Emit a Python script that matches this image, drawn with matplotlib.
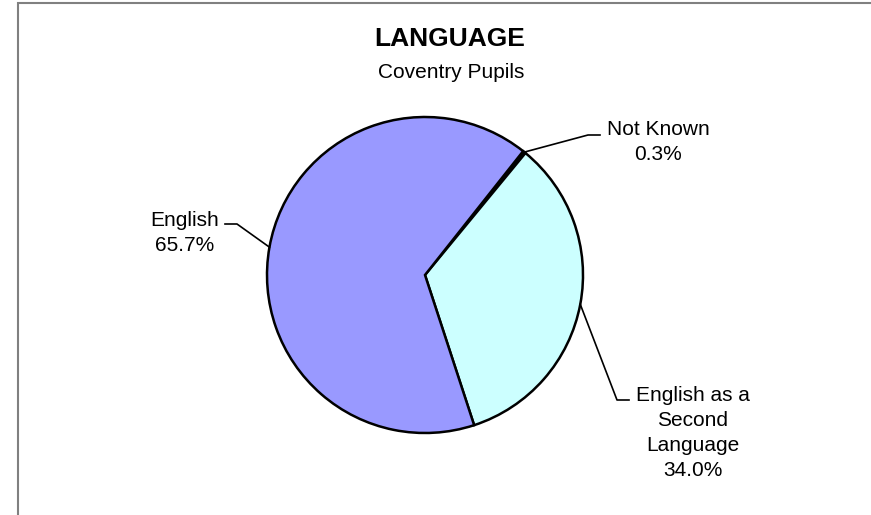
import numpy as np
import matplotlib.pyplot as plt
from matplotlib.patches import Rectangle

plt.rcParams['font.family'] = ['Liberation Sans', 'DejaVu Sans']

# Dữ liệu
labels = ['Not Known', 'English as a\nSecond\nLanguage', 'English']
values = [0.3, 34.0, 65.7]
colors = ['#000000', '#CCFFFF', '#9999FF']

W, H = 871, 515
fig = plt.figure(figsize=(W / 100, H / 100), dpi=100)

# khung xám
fig.patches.append(Rectangle((18 / W, -0.1), 1.2, 1.1 - 3 / H, transform=fig.transFigure,
                             fill=False, edgecolor='#808080', linewidth=1.5))

# trục cho hình tròn: tâm (425, 275), bán kính 158 px
cx, cy, r = 425, 275, 158
ax = fig.add_axes([0, 0, 1, 1])

wedges, _ = ax.pie(values, colors=colors, startangle=51.6, counterclock=False,
                   wedgeprops=dict(edgecolor='black', linewidth=1.8))

# pie() tự đặt giới hạn trục, nên đặt lại sau đó
ax.set_xlim(-cx / r, (W - cx) / r)
ax.set_ylim(-(H - cy) / r, cy / r)
ax.set_aspect('equal')
ax.axis('off')

def px(x, y):
    return (x - cx) / r, (cy - y) / r

# vị trí nhãn (pixel): điểm gãy, đầu đường kẻ, tâm chữ
label_pos = [
    ((588, 135), (600, 135), (658, 142)),
    ((617, 400), (629, 400), (693, 433)),
    ((237, 224), (225, 224), (185, 233)),
]

for w, lab, v, (elbow, end, tpos) in zip(wedges, labels, values, label_pos):
    ang = np.deg2rad((w.theta1 + w.theta2) / 2)
    ax0, ay0 = np.cos(ang), np.sin(ang)
    ex, ey = px(*elbow)
    hx, hy = px(*end)
    ax.plot([ax0, ex, hx], [ay0, ey, hy], color='black', linewidth=1.2)
    tx, ty = px(*tpos)
    ax.text(tx, ty, f'{lab}\n{v:.1f}%', ha='center', va='center', fontsize=15,
            linespacing=1.38, multialignment='center')

fig.text(449.5 / W, 1 - 39 / H, 'LANGUAGE', ha='center', va='center', fontsize=19,
         fontweight='bold')
fig.text(451 / W, 1 - 73 / H, 'Coventry Pupils', ha='center', va='center', fontsize=15)

fig.savefig('out.png', dpi=100)
